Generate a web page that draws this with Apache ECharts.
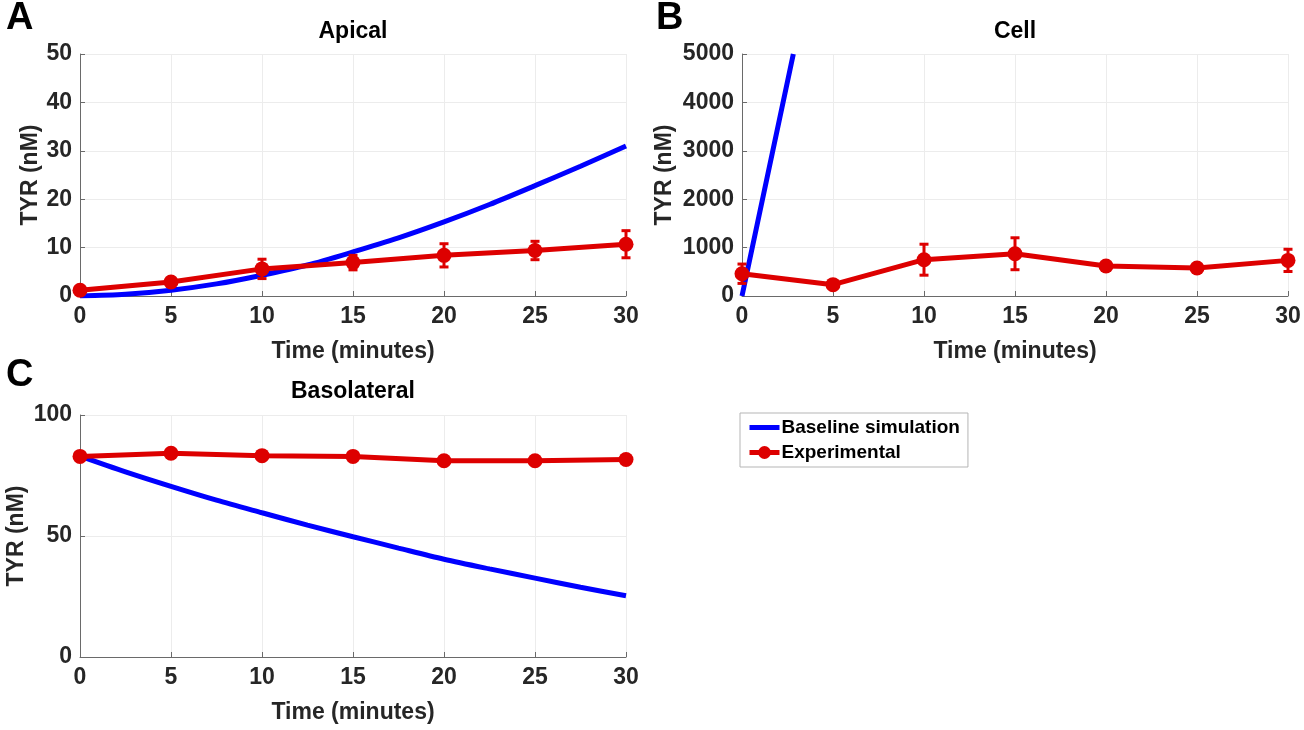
<!DOCTYPE html>
<html>
<head>
<meta charset="utf-8">
<script src="https://cdn.jsdelivr.net/npm/echarts@6/dist/echarts.min.js"></script>
<style>
html,body{margin:0;padding:0;background:#fff;}
#chart{width:1304px;height:730px;}
</style>
</head>
<body>
<div id="chart"></div>
<script>
// ---- data ----
const timePoints = [0, 5, 10, 15, 20, 25, 30];
const simTime = [0, 2.5, 5, 7.5, 10, 12.5, 15, 17.5, 20, 22.5, 25, 27.5, 30];

const apicalExp = [1.2, 2.9, 5.6, 6.9, 8.4, 9.4, 10.7];
const apicalErr = [0.5, 0.8, 2.0, 1.5, 2.4, 1.9, 2.8];
const apicalSim = [0, 0.35, 1.2, 2.5, 4.3, 6.4, 9.1, 12.0, 15.3, 18.9, 22.8, 26.8, 31.0];

const cellExp = [460, 234, 750, 873, 619, 578, 736];
const cellErr = [200, 0, 320, 330, 0, 0, 230];
const cellSimTime = [0, 1.5, 2.82];
const cellSim = [0, 2660, 5000];

const basoExp = [82.9, 84.2, 83.2, 82.9, 81.1, 81.1, 81.6];
const basoSim = [83, 76.5, 70.5, 64.8, 59.6, 54.5, 49.7, 45.0, 40.4, 36.4, 32.6, 28.8, 25.3];

const xTicks = {min: 0, max: 30, interval: 5};
const panelTitles = ['Apical', 'Cell', 'Basolateral'];
const panelLetters = ['A', 'B', 'C'];
const yLabel = 'TYR (nM)';
const xLabel = 'Time (minutes)';
const simName = 'Baseline simulation';
const expName = 'Experimental';

// ---- styling ----
const FONT = '"Liberation Sans", Arial, Helvetica, sans-serif';
const RED = '#dd0000';
const BLUE = '#0000ff';
const AXIS = '#6a6a6a';
const TXT = '#262626';

const grids = [
  {left: 80, top: 54, width: 546, height: 242},
  {left: 742, top: 54, width: 546, height: 242},
  {left: 80, top: 415, width: 546, height: 242}
];
const yRanges = [
  {min: 0, max: 50, interval: 10, gap: 38},
  {min: 0, max: 5000, interval: 1000, gap: 66},
  {min: 0, max: 100, interval: 50, gap: 52}
];

function xAxis(i) {
  return {
    type: 'value', gridIndex: i, min: xTicks.min, max: xTicks.max, interval: xTicks.interval,
    name: xLabel, nameLocation: 'middle', nameGap: 44,
    nameTextStyle: {fontFamily: FONT, fontWeight: 'bold', fontSize: 23, color: TXT},
    axisLine: {show: true, lineStyle: {color: AXIS, width: 1}},
    axisTick: {show: true, inside: true, length: 5, lineStyle: {color: AXIS}},
    axisLabel: {margin: 9, fontFamily: FONT, fontWeight: 'bold', fontSize: 23, color: TXT,
      formatter: v => String(v)},
    splitLine: {show: true, lineStyle: {color: '#ececec', width: 1}}
  };
}
function yAxis(i) {
  const r = yRanges[i];
  return {
    type: 'value', gridIndex: i, min: r.min, max: r.max, interval: r.interval,
    name: yLabel, nameLocation: 'middle', nameGap: r.gap,
    nameTextStyle: {fontFamily: FONT, fontWeight: 'bold', fontSize: 23, color: TXT},
    axisLine: {show: true, lineStyle: {color: AXIS, width: 1}},
    axisTick: {show: true, inside: true, length: 5, lineStyle: {color: AXIS}},
    axisLabel: {margin: 8, fontFamily: FONT, fontWeight: 'bold', fontSize: 23, color: TXT,
      formatter: v => String(v)},
    splitLine: {show: true, lineStyle: {color: '#ececec', width: 1}}
  };
}

function pairs(xs, ys) { return xs.map((x, k) => [x, ys[k]]); }

function simSeries(i, xs, ys) {
  return {
    name: simName, type: 'line', xAxisIndex: i, yAxisIndex: i,
    data: pairs(xs, ys), smooth: 0.3, symbol: 'none', showSymbol: false,
    lineStyle: {color: BLUE, width: 5}, itemStyle: {color: BLUE}, z: 2, clip: true
  };
}
function expSeries(i, ys) {
  return {
    name: expName, type: 'line', xAxisIndex: i, yAxisIndex: i,
    data: pairs(timePoints, ys), symbol: 'circle', symbolSize: 15,
    lineStyle: {color: RED, width: 5}, itemStyle: {color: RED}, z: 3, clip: false
  };
}
function errSeries(i, ys, errs) {
  return {
    name: 'err' + i, type: 'custom', xAxisIndex: i, yAxisIndex: i, z: 4,
    data: timePoints.map((t, k) => [t, ys[k] - errs[k], ys[k] + errs[k]]),
    renderItem: function (params, api) {
      const lo = api.coord([api.value(0), api.value(1)]);
      const hi = api.coord([api.value(0), api.value(2)]);
      if (Math.abs(hi[1] - lo[1]) < 0.5) return null;
      const w = 4.5;
      const st = {stroke: RED, lineWidth: 3};
      return {
        type: 'group',
        children: [
          {type: 'line', shape: {x1: lo[0], y1: lo[1], x2: hi[0], y2: hi[1]}, style: st},
          {type: 'line', shape: {x1: lo[0] - w, y1: lo[1], x2: lo[0] + w, y2: lo[1]}, style: st},
          {type: 'line', shape: {x1: hi[0] - w, y1: hi[1], x2: hi[0] + w, y2: hi[1]}, style: st}
        ]
      };
    }
  };
}

const graphics = [];
const letterPos = [[20, 19], [670, 19], [20, 376]];
const titlePos = [[353, 32], [1015, 32], [353, 392]];
for (let i = 0; i < 3; i++) {
  graphics.push({type: 'text', left: letterPos[i][0] - 14, top: letterPos[i][1] - 19,
    style: {text: panelLetters[i], font: 'bold 38px ' + FONT, fill: '#000'}});
  graphics.push({type: 'text', x: titlePos[i][0], y: titlePos[i][1],
    style: {text: panelTitles[i], font: 'bold 23px ' + FONT, fill: '#000', align: 'center', verticalAlign: 'middle'}});
}

const chart = echarts.init(document.getElementById('chart'));
chart.setOption({
  animation: false,
  backgroundColor: '#fff',
  grid: grids,
  xAxis: [xAxis(0), xAxis(1), xAxis(2)],
  yAxis: [yAxis(0), yAxis(1), yAxis(2)],
  legend: {
    data: [
      {name: simName, icon: 'path://M0,0H30V5H0Z'},
      {name: expName}
    ],
    orient: 'vertical', left: 740, top: 413,
    padding: [5, 8, 5, 7], itemGap: 6,
    itemWidth: 30, itemHeight: 16,
    borderColor: '#b5b5b5', borderWidth: 1, backgroundColor: '#fff',
    lineStyle: {width: 'inherit'},
    textStyle: {fontFamily: FONT, fontWeight: 'bold', fontSize: 19, color: '#000', padding: [0, 0, 0, -3]}
  },
  graphic: graphics,
  series: [
    simSeries(0, simTime, apicalSim),
    expSeries(0, apicalExp),
    errSeries(0, apicalExp, apicalErr),
    simSeries(1, cellSimTime, cellSim),
    expSeries(1, cellExp),
    errSeries(1, cellExp, cellErr),
    simSeries(2, simTime, basoSim),
    expSeries(2, basoExp)
  ]
});
</script>
</body>
</html>
